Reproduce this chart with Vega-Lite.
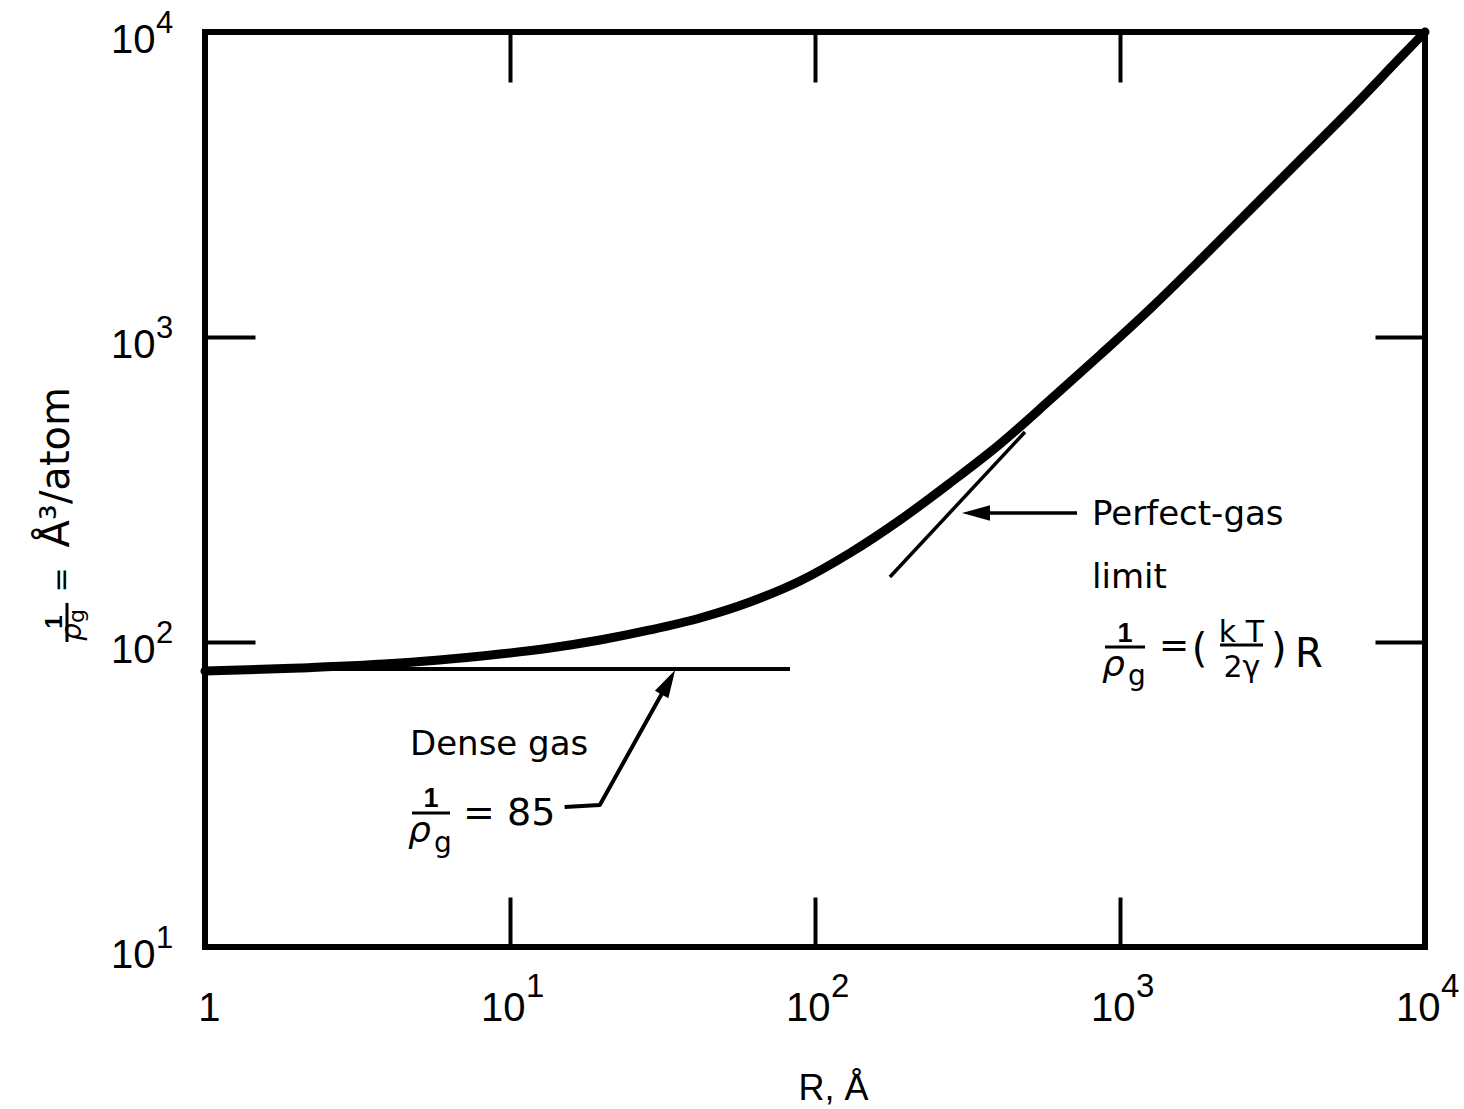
{
  "$schema": "https://vega.github.io/schema/vega-lite/v6.json",
  "width": 1220,
  "height": 915,
  "autosize": {"type": "none"},
  "padding": {"left": 205, "top": 32, "right": 39, "bottom": 162},
  "background": "white",
  "data": {"values": [{}]},
  "config": {
    "view": {"stroke": "black", "strokeWidth": 6},
    "axis": {
      "domain": false, "grid": false, "tickColor": "black", "tickWidth": 4, "tickSize": -50,
      "labelColor": "black", "labelFont": "Liberation Sans", "labelFontSize": 40,
      "labelFlush": false, "labelOverlap": false, "labelBound": false,
      "titleColor": "black", "titleFontWeight": "normal"
    },
    "text": {"font": "DejaVu Sans", "color": "black"}
  },
  "datasets": {
    "curve": [
      {"R": 1, "V": 80.3}, {"R": 2.049, "V": 82.2}, {"R": 4.358, "V": 85.3}, {"R": 6.358, "V": 87.97},
      {"R": 9.273, "V": 91.3}, {"R": 13.53, "V": 95.6}, {"R": 19.73, "V": 101.5}, {"R": 28.77, "V": 109.5},
      {"R": 41.98, "V": 119.9}, {"R": 61.22, "V": 135.3}, {"R": 89.3, "V": 158.5}, {"R": 130.2, "V": 195.8},
      {"R": 190.0, "V": 251.2}, {"R": 277.1, "V": 332.1}, {"R": 404.3, "V": 445.9}, {"R": 589.5, "V": 621.6},
      {"R": 860.0, "V": 873.0}, {"R": 1254, "V": 1236}, {"R": 1830, "V": 1788}, {"R": 2669, "V": 2609},
      {"R": 3893, "V": 3804}, {"R": 5677, "V": 5550}, {"R": 8279, "V": 8219}, {"R": 10000, "V": 10000}
    ],
    "dense": [{"R": 1, "V": 81.6}, {"R": 82.8, "V": 81.6}],
    "perfect": [{"R": 176, "V": 163.3}, {"R": 488, "V": 488}],
    "arrowDense": [{"R": 15.1, "V": 28.8}, {"R": 19.7, "V": 29.2}, {"R": 33.5, "V": 75.8}],
    "arrowPerfect": [{"R": 327, "V": 264.8}, {"R": 723, "V": 264.8}],
    "xexp": [{"v": 10, "e": "1"}, {"v": 100, "e": "2"}, {"v": 1000, "e": "3"}, {"v": 10000, "e": "4"}],
    "yexp": [{"v": 10, "e": "1"}, {"v": 100, "e": "2"}, {"v": 1000, "e": "3"}, {"v": 10000, "e": "4"}]
  },
  "resolve": {"axis": {"x": "independent", "y": "independent"}},
  "layer": [
    {
      "data": {"name": "curve"},
      "mark": {"type": "line", "stroke": "black", "strokeWidth": 9, "strokeCap": "round", "strokeJoin": "round", "interpolate": "monotone"},
      "encoding": {
        "x": {"field": "R", "type": "quantitative", "scale": {"type": "log", "domain": [1, 10000], "nice": false},
          "axis": {"orient": "bottom", "values": [1, 10, 100, 1000, 10000], "labelExpr": "datum.value == 1 ? '1' : '10'",
            "labelAlign": "right", "labelBaseline": "alphabetic", "labelPadding": 123, "labelOffset": 15,
            "title": "R, Å", "titleFont": "Liberation Sans", "titleFontSize": 36, "titleX": 628, "titleY": 152,
            "titleAlign": "center", "titleBaseline": "alphabetic", "titleAnchor": null}},
        "y": {"field": "V", "type": "quantitative", "scale": {"type": "log", "domain": [10, 10000], "nice": false},
          "axis": {"orient": "left", "values": [10, 100, 1000, 10000], "labelExpr": "'10'",
            "labelAlign": "right", "labelBaseline": "alphabetic", "labelPadding": 100, "labelOffset": 20,
            "title": "Å³/atom", "titleFont": "DejaVu Sans", "titleFontSize": 40, "titleAngle": 270,
            "titleX": -137, "titleY": 515, "titleAlign": "left", "titleBaseline": "alphabetic", "titleAnchor": null}}
      }
    },
    {
      "data": {"name": "dense"},
      "mark": {"type": "line", "stroke": "black", "strokeWidth": 4},
      "encoding": {
        "x": {"field": "R", "type": "quantitative", "scale": {"type": "log", "domain": [1, 10000], "nice": false},
          "axis": {"orient": "top", "values": [10, 100, 1000], "labels": false, "title": null}},
        "y": {"field": "V", "type": "quantitative", "scale": {"type": "log", "domain": [10, 10000], "nice": false},
          "axis": {"orient": "right", "values": [100, 1000], "labels": false, "title": null}}
      }
    },
    {
      "data": {"name": "perfect"},
      "mark": {"type": "line", "stroke": "black", "strokeWidth": 3.5},
      "encoding": {
        "x": {"field": "R", "type": "quantitative", "axis": null},
        "y": {"field": "V", "type": "quantitative", "axis": null}
      }
    },
    {
      "data": {"name": "arrowDense"},
      "mark": {"type": "line", "stroke": "black", "strokeWidth": 4, "strokeJoin": "round"},
      "encoding": {
        "x": {"field": "R", "type": "quantitative", "axis": null},
        "y": {"field": "V", "type": "quantitative", "axis": null}
      }
    },
    {
      "data": {"name": "arrowPerfect"},
      "mark": {"type": "line", "stroke": "black", "strokeWidth": 3.5},
      "encoding": {
        "x": {"field": "R", "type": "quantitative", "axis": null},
        "y": {"field": "V", "type": "quantitative", "axis": null}
      }
    },
    {
      "mark": {"type": "point", "shape": "M0,0L2,-0.55L2,0.55Z", "size": 784, "filled": true, "color": "black", "opacity": 1, "angle": 0},
      "encoding": {"x": {"datum": 303.4, "axis": null}, "y": {"datum": 264.8, "axis": null}}
    },
    {
      "mark": {"type": "point", "shape": "M0,0L2,-0.55L2,0.55Z", "size": 784, "filled": true, "color": "black", "opacity": 1, "angle": 119},
      "encoding": {"x": {"datum": 34.8, "axis": null}, "y": {"datum": 80.9, "axis": null}}
    },
    {
      "data": {"name": "xexp"},
      "mark": {"type": "text", "font": "Liberation Sans", "fontSize": 33, "align": "left", "baseline": "alphabetic", "dx": 16, "dy": 50},
      "encoding": {"x": {"field": "v", "type": "quantitative", "axis": null}, "y": {"datum": 10, "axis": null}, "text": {"field": "e"}}
    },
    {
      "data": {"name": "yexp"},
      "mark": {"type": "text", "font": "Liberation Sans", "fontSize": 31, "align": "left", "baseline": "alphabetic", "dx": -49, "dy": 1},
      "encoding": {"x": {"datum": 1, "axis": null}, "y": {"field": "v", "type": "quantitative", "axis": null}, "text": {"field": "e"}}
    },
    {"mark": {"type": "text", "text": "Dense gas", "fontSize": 34, "align": "left", "baseline": "alphabetic"},
     "encoding": {"x": {"datum": 4.70, "axis": null}, "y": {"datum": 42.6, "axis": null}}},
    {"mark": {"type": "text", "text": "1", "font": "Liberation Sans", "fontSize": 27, "fontWeight": "bold", "align": "center", "baseline": "alphabetic"},
     "encoding": {"x": {"datum": 5.508, "axis": null}, "y": {"datum": 28.77, "axis": null}}},
    {"mark": {"type": "rule", "stroke": "black", "strokeWidth": 3},
     "encoding": {"x": {"datum": 4.771, "axis": null}, "x2": {"datum": 6.358}, "y": {"datum": 27.5, "axis": null}}},
    {"mark": {"type": "text", "text": "ρ", "fontSize": 36, "fontStyle": "italic", "align": "left", "baseline": "alphabetic"},
     "encoding": {"x": {"datum": 4.631, "axis": null}, "y": {"datum": 22.1, "axis": null}}},
    {"mark": {"type": "text", "text": "g", "fontSize": 28, "align": "left", "baseline": "alphabetic"},
     "encoding": {"x": {"datum": 5.634, "axis": null}, "y": {"datum": 20.49, "axis": null}}},
    {"mark": {"type": "text", "text": "= 85", "fontSize": 38, "align": "left", "baseline": "alphabetic"},
     "encoding": {"x": {"datum": 7.015, "axis": null}, "y": {"datum": 25.12, "axis": null}}},
    {"mark": {"type": "text", "text": "Perfect-gas", "fontSize": 34, "align": "left", "baseline": "alphabetic"},
     "encoding": {"x": {"datum": 809.6, "axis": null}, "y": {"datum": 241.8, "axis": null}}},
    {"mark": {"type": "text", "text": "limit", "fontSize": 34, "align": "left", "baseline": "alphabetic"},
     "encoding": {"x": {"datum": 809.6, "axis": null}, "y": {"datum": 150.3, "axis": null}}},
    {"mark": {"type": "text", "text": "1", "font": "Liberation Sans", "fontSize": 27, "fontWeight": "bold", "align": "center", "baseline": "alphabetic"},
     "encoding": {"x": {"datum": 1038.5, "axis": null}, "y": {"datum": 100, "axis": null}}},
    {"mark": {"type": "rule", "stroke": "black", "strokeWidth": 3},
     "encoding": {"x": {"datum": 892.9, "axis": null}, "x2": {"datum": 1207.8}, "y": {"datum": 96.3, "axis": null}}},
    {"mark": {"type": "text", "text": "ρ", "fontSize": 36, "fontStyle": "italic", "align": "left", "baseline": "alphabetic"},
     "encoding": {"x": {"datum": 873.0, "axis": null}, "y": {"datum": 77.35, "axis": null}}},
    {"mark": {"type": "text", "text": "g", "fontSize": 28, "align": "left", "baseline": "alphabetic"},
     "encoding": {"x": {"datum": 1062, "axis": null}, "y": {"datum": 72.3, "axis": null}}},
    {"mark": {"type": "text", "text": "=", "fontSize": 36, "align": "left", "baseline": "alphabetic"},
     "encoding": {"x": {"datum": 1342.5, "axis": null}, "y": {"datum": 89.3, "axis": null}}},
    {"mark": {"type": "text", "text": "(", "fontSize": 40, "align": "left", "baseline": "alphabetic"},
     "encoding": {"x": {"datum": 1720, "axis": null}, "y": {"datum": 86.0, "axis": null}}},
    {"mark": {"type": "text", "text": "k T", "fontSize": 30, "align": "center", "baseline": "alphabetic"},
     "encoding": {"x": {"datum": 2502, "axis": null}, "y": {"datum": 100, "axis": null}}},
    {"mark": {"type": "rule", "stroke": "black", "strokeWidth": 3},
     "encoding": {"x": {"datum": 2128, "axis": null}, "x2": {"datum": 2944}, "y": {"datum": 97.8, "axis": null}}},
    {"mark": {"type": "text", "text": "2γ", "fontSize": 30, "align": "center", "baseline": "alphabetic"},
     "encoding": {"x": {"datum": 2511, "axis": null}, "y": {"datum": 76.8, "axis": null}}},
    {"mark": {"type": "text", "text": ")", "fontSize": 40, "align": "left", "baseline": "alphabetic"},
     "encoding": {"x": {"datum": 3127, "axis": null}, "y": {"datum": 86.0, "axis": null}}},
    {"mark": {"type": "text", "text": "R", "fontSize": 40, "align": "left", "baseline": "alphabetic"},
     "encoding": {"x": {"datum": 3748, "axis": null}, "y": {"datum": 82.8, "axis": null}}},
    {"mark": {"type": "text", "text": "1", "font": "Liberation Sans", "fontSize": 24, "fontWeight": "bold", "angle": 270, "align": "center", "baseline": "alphabetic"},
     "encoding": {"x": {"datum": 0.3398, "axis": null}, "y": {"datum": 116.3, "axis": null}}},
    {"mark": {"type": "rule", "stroke": "black", "strokeWidth": 3},
     "encoding": {"x": {"datum": 0.3528, "axis": null}, "y": {"datum": 134.3, "axis": null}, "y2": {"datum": 100}}},
    {"mark": {"type": "text", "text": "ρ", "fontSize": 28, "fontStyle": "italic", "angle": 270, "align": "left", "baseline": "alphabetic"},
     "encoding": {"x": {"datum": 0.3922, "axis": null}, "y": {"datum": 100.8, "axis": null}}},
    {"mark": {"type": "text", "text": "g", "fontSize": 22, "angle": 270, "align": "left", "baseline": "alphabetic"},
     "encoding": {"x": {"datum": 0.4012, "axis": null}, "y": {"datum": 115.5, "axis": null}}},
    {"mark": {"type": "text", "text": "=", "fontSize": 30, "angle": 270, "align": "center", "baseline": "alphabetic"},
     "encoding": {"x": {"datum": 0.3636, "axis": null}, "y": {"datum": 159.7, "axis": null}}}
  ]
}
